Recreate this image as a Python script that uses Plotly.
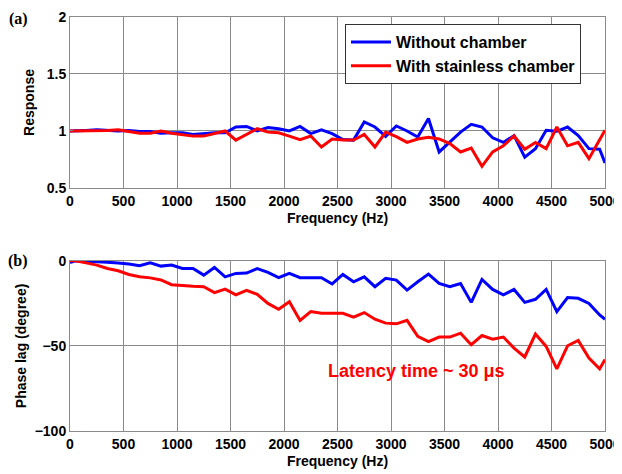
import plotly.graph_objects as go
from plotly.subplots import make_subplots

freq = [0, 50, 150, 250, 350, 450, 550, 650, 750, 850, 950, 1050, 1150, 1250, 1350, 1450,
        1550, 1650, 1750, 1850, 1950, 2050, 2150, 2250, 2350, 2450, 2550, 2650, 2750, 2850,
        2950, 3050, 3150, 3250, 3350, 3450, 3550, 3650, 3750, 3850, 3950, 4050, 4150, 4250,
        4350, 4450, 4550, 4650, 4750, 4850, 4950, 5000]

resp_without = [1.00, 1.00, 1.005, 1.01, 1.005, 1.0, 1.005, 0.995, 0.995, 0.98, 0.985, 0.985,
                0.97, 0.98, 0.985, 0.985, 1.035, 1.04, 1.0, 1.03, 1.02, 1.0, 1.04, 0.977,
                1.01, 0.977, 0.925, 0.92, 1.08, 1.035, 0.953, 1.044, 1.0, 0.947, 1.11, 0.816,
                0.90, 0.99, 1.058, 1.035, 0.94, 0.90, 0.96, 0.77, 0.845, 1.006, 0.997, 1.035,
                0.96, 0.845, 0.84, 0.72]

resp_with = [1.0, 1.0, 1.0, 1.0, 1.005, 1.01, 0.995, 0.98, 0.98, 1.0, 0.98, 0.97,
             0.955, 0.955, 0.975, 1.0, 0.92, 0.97, 1.02, 0.99, 0.985, 0.955, 0.924, 0.956,
             0.86, 0.93, 0.92, 0.92, 0.97, 0.86, 0.99, 0.95, 0.90, 0.93, 0.945, 0.93,
             0.89, 0.816, 0.85, 0.69, 0.816, 0.87, 0.956, 0.84, 0.90, 0.845, 1.035, 0.87,
             0.90, 0.757, 0.92, 1.006]

phase_without = [-1.0, 0.0, -0.2, -0.4, -0.8, -1.3, -1.8, -2.9, -1.2, -3.1, -2.5, -4.5,
                 -4.5, -8.4, -3.9, -9.4, -7.4, -7.2, -4.5, -6.8, -9.9, -7.4, -9.9, -9.9,
                 -9.9, -13.6, -8.0, -12.3, -9.4, -15.2, -10.3, -11.3, -17.2, -12.3, -7.8, -13.3,
                 -15.2, -13.3, -24.4, -10.9, -16.8, -20.0, -16.8, -24.4, -22.6, -16.8, -29.8, -21.6,
                 -22.0, -25.0, -31.8, -34.3]

phase_with = [0.0, 0.0, -1.2, -2.5, -4.5, -5.8, -8.0, -9.3, -10.0, -11.2, -14.0, -14.6,
              -15.0, -15.2, -18.7, -16.6, -20.0, -17.3, -19.7, -25.0, -28.5, -24.0, -35.0, -29.8,
              -30.8, -30.8, -30.8, -33.1, -30.4, -34.3, -36.6, -37.0, -35.0, -44.4, -47.5, -44.8,
              -44.8, -42.5, -49.3, -43.9, -46.0, -44.8, -51.3, -56.5, -43.0, -50.3, -63.5, -49.9,
              -46.8, -57.1, -63.5, -58.0]

x_ticks = [0, 500, 1000, 1500, 2000, 2500, 3000, 3500, 4000, 4500, 5000]
resp_ticks = [0.5, 1, 1.5, 2]
resp_tick_text = ["0.5", "1", "1.5", "2"]
phase_ticks = [-100, -50, 0]

names = ["Without chamber", "With stainless chamber"]
colors = ["#0000ff", "#ff0000"]

FONT = "Liberation Sans, Arial, sans-serif"

fig = make_subplots(rows=2, cols=1, vertical_spacing=0.0)

fig.add_trace(go.Scatter(x=freq, y=resp_without, mode="lines", name=names[0],
                         line=dict(color=colors[0], width=3)), row=1, col=1)
fig.add_trace(go.Scatter(x=freq, y=resp_with, mode="lines", name=names[1],
                         line=dict(color=colors[1], width=3)), row=1, col=1)
fig.add_trace(go.Scatter(x=freq, y=phase_without, mode="lines", name=names[0], showlegend=False,
                         line=dict(color=colors[0], width=3)), row=2, col=1)
fig.add_trace(go.Scatter(x=freq, y=phase_with, mode="lines", name=names[1], showlegend=False,
                         line=dict(color=colors[1], width=3)), row=2, col=1)

axis_common = dict(showgrid=True, gridcolor="#8a8a8a", gridwidth=1, showline=True,
                   linecolor="#8a8a8a", linewidth=1, mirror=True, zeroline=False,
                   ticks="inside", ticklen=3, tickcolor="#8a8a8a", automargin=False,
                   tickfont=dict(family=FONT, size=14, color="black", weight="bold"))

title_font = dict(family=FONT, size=14, color="black", weight="bold")

fig.update_xaxes(range=[0, 5000], tickvals=x_ticks,
                 title=dict(text="Frequency (Hz)", font=title_font, standoff=5), **axis_common)
fig.update_yaxes(range=[0.5, 2], tickvals=resp_ticks, ticktext=resp_tick_text,
                 title=dict(text="Response", font=title_font, standoff=8),
                 row=1, col=1, **axis_common)
fig.update_yaxes(range=[-100, 0], tickvals=phase_ticks,
                 title=dict(text="Phase lag (degree)", font=title_font, standoff=4),
                 row=2, col=1, **axis_common)

# page body has an 8 px margin, so the figure is drawn 8 px right and down
fig.update_layout(
    width=614, height=466,
    margin=dict(l=62, r=17, t=9, b=43, autoexpand=False),
    paper_bgcolor="white", plot_bgcolor="white",
    xaxis=dict(domain=[0, 1]),
    yaxis=dict(domain=[0.587, 1.0]),
    yaxis2=dict(domain=[0.0, 0.411]),
    legend=dict(x=0.514, y=0.983, xanchor="left", yanchor="top",
                bgcolor="white", bordercolor="#333333", borderwidth=1,
                font=dict(family=FONT, size=16, color="black", weight="bold"),
                itemwidth=40, tracegroupgap=0),
    showlegend=True,
)

fig.add_annotation(x=3240, y=-64.5, xref="x2", yref="y2", text="Latency time ~ 30 μs",
                   showarrow=False, font=dict(family=FONT, size=18, color="#ff0000", weight="bold"),
                   xanchor="center", yanchor="middle")

label_font = dict(family="Liberation Serif, Times New Roman, serif", size=16, color="black", weight="bold")
fig.add_annotation(x=-0.097, y=1.0, xref="paper", yref="paper", text="(a)", showarrow=False,
                   font=label_font, xanchor="center", yanchor="middle", yshift=-2)
fig.add_annotation(x=-0.097, y=0.411, xref="paper", yref="paper", text="(b)", showarrow=False,
                   font=label_font, xanchor="center", yanchor="middle")

fig.write_html("out.html")
